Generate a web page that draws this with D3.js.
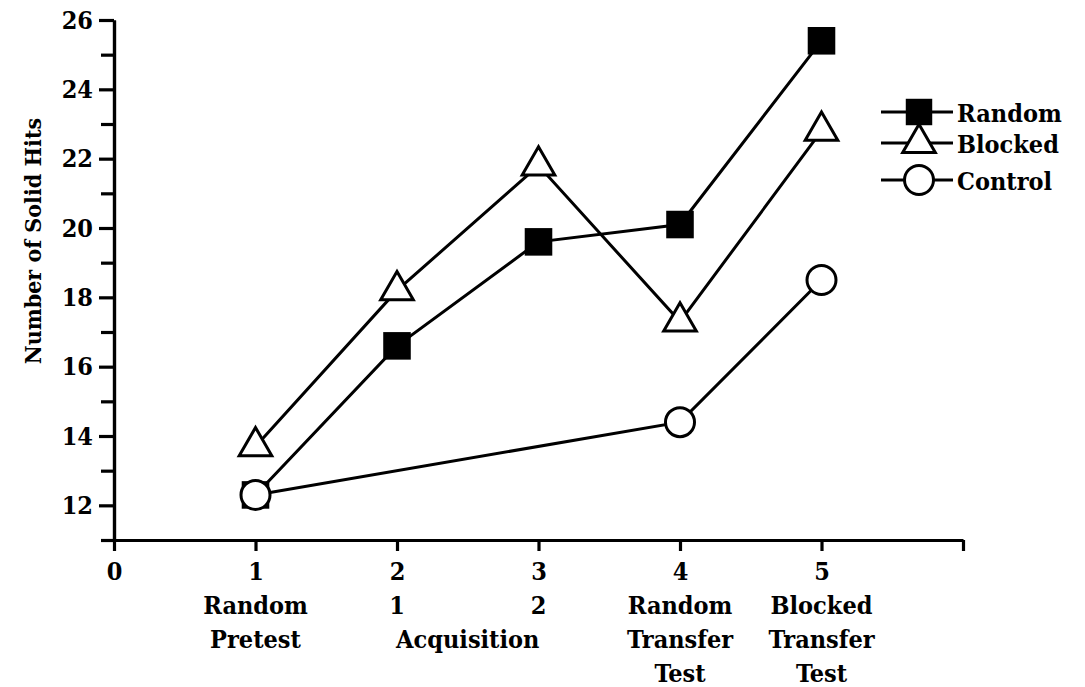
<!DOCTYPE html>
<html>
<head>
<meta charset="utf-8">
<script src="https://cdnjs.cloudflare.com/ajax/libs/d3/7.8.5/d3.min.js"></script>
<style>
    body { margin: 0; background: #fff; }
    svg text { font-family: "DejaVu Serif Condensed", "DejaVu Serif", serif; font-weight: bold; fill: #000; }
</style>
</head>
<body>
<svg id="chart" width="1085" height="687"></svg>
<script>
// data
var sessions   = [1, 2, 3, 4, 5];
var randomHits = [12.3, 16.6, 19.6, 20.1, 25.4];
var blockedHits = [13.7, 18.2, 21.8, 17.3, 22.8];
var controlSessions = [1, 4, 5];
var controlHits = [12.3, 14.4, 18.5];

var yTicks = [12, 14, 16, 18, 20, 22, 24, 26];
var yMinorTicks = [11, 13, 15, 17, 19, 21, 23, 25];
var xTicks = [0, 1, 2, 3, 4, 5, 6];
var xTickLabels = ["0", "1", "2", "3", "4", "5", ""];

// phase labels under the tick numbers: [x position, lines]
var phaseLabels = [
    [1, ["Random", "Pretest"]],
    [2, ["1"]],
    [3, ["2"]],
    [2.5, ["", "Acquisition"]],
    [4, ["Random", "Transfer", "Test"]],
    [5, ["Blocked", "Transfer", "Test"]]
];

var legendNames = ["Random", "Blocked", "Control"];

var FONT = 25;

var svg = d3.select("#chart");

var x = d3.scaleLinear().domain([0, 6]).range([114, 963]);
var y = d3.scaleLinear().domain([11, 26]).range([540, 20]);

// y axis, major + minor ticks
svg.append("g")
    .attr("transform", "translate(" + x(0) + ",0)")
    .call(d3.axisLeft(y).tickValues(yTicks).tickSize(15).tickSizeOuter(0).tickPadding(6));

svg.append("g")
    .attr("transform", "translate(" + x(0) + ",0)")
    .call(d3.axisLeft(y).tickValues(yMinorTicks).tickSize(13).tickSizeOuter(0).tickFormat(""));

// x axis
var xAxis = svg.append("g")
    .attr("transform", "translate(0," + y(11) + ")")
    .call(d3.axisBottom(x).tickValues(xTicks).tickSize(11).tickSizeOuter(0).tickPadding(14)
        .tickFormat(function (d, i) { return xTickLabels[i]; }));

svg.selectAll(".domain, .tick line")
    .attr("stroke", "#000")
    .attr("stroke-width", 3.2);

svg.selectAll(".tick text")
    .attr("font-size", FONT)
    .attr("font-family", null);

xAxis.selectAll(".tick text").attr("dy", "0.6em");

// phase labels
phaseLabels.forEach(function (p)
{
    var t = svg.append("text")
        .attr("x", x(p[0]))
        .attr("text-anchor", "middle")
        .attr("font-size", FONT);
    p[1].forEach(function (line, i)
    {
        t.append("tspan")
            .attr("x", x(p[0]))
            .attr("y", 614 + i * 34)
            .text(line);
    });
});

// y label
svg.append("text")
    .attr("transform", "translate(41," + 241 + ") rotate(-90)")
    .attr("text-anchor", "middle")
    .attr("font-size", 23)
    .text("Number of Solid Hits");

// lines
var line = d3.line()
    .x(function (d) { return x(d[0]); })
    .y(function (d) { return y(d[1]); });

function pairs(xs, ys)
{
    return xs.map(function (d, i) { return [d, ys[i]]; });
}

var randomPts = pairs(sessions, randomHits);
var blockedPts = pairs(sessions, blockedHits);
var controlPts = pairs(controlSessions, controlHits);

[randomPts, blockedPts, controlPts].forEach(function (pts)
{
    svg.append("path")
        .attr("d", line(pts))
        .attr("fill", "none")
        .attr("stroke", "#000")
        .attr("stroke-width", 3);
});

// markers
var squareSym = d3.symbol().type(d3.symbolSquare).size(760);
var triSym = d3.symbol().type(d3.symbolTriangle).size(460);
var circleR = 14.5;

function drawSquares(g, pts)
{
    g.selectAll(null).data(pts).enter().append("path")
        .attr("transform", function (d) { return "translate(" + x(d[0]) + "," + y(d[1]) + ")"; })
        .attr("d", squareSym)
        .attr("fill", "#000");
}

function drawTriangles(g, pts)
{
    g.selectAll(null).data(pts).enter().append("path")
        .attr("transform", function (d) { return "translate(" + x(d[0]) + "," + y(d[1]) + ")"; })
        .attr("d", triSym)
        .attr("fill", "#fff")
        .attr("stroke", "#000")
        .attr("stroke-width", 3);
}

function drawCircles(g, pts)
{
    g.selectAll(null).data(pts).enter().append("circle")
        .attr("cx", function (d) { return x(d[0]); })
        .attr("cy", function (d) { return y(d[1]); })
        .attr("r", circleR)
        .attr("fill", "#fff")
        .attr("stroke", "#000")
        .attr("stroke-width", 3);
}

var marks = svg.append("g");
drawSquares(marks, randomPts);
drawTriangles(marks, blockedPts);
drawCircles(marks, controlPts);

// legend
var legendY = [112, 143, 180];
var legend = svg.append("g");
legendNames.forEach(function (name, i)
{
    var ly = legendY[i];
    legend.append("line")
        .attr("x1", 881).attr("x2", 953)
        .attr("y1", ly).attr("y2", ly)
        .attr("stroke", "#000").attr("stroke-width", 3);
    legend.append("text")
        .attr("x", 957)
        .attr("y", ly + 10)
        .attr("font-size", FONT)
        .text(name);
});

// legend symbols
legend.append("path")
    .attr("transform", "translate(919," + legendY[0] + ")")
    .attr("d", d3.symbol().type(d3.symbolSquare).size(700))
    .attr("fill", "#000");
legend.append("path")
    .attr("transform", "translate(919," + legendY[1] + ")")
    .attr("d", triSym)
    .attr("fill", "#fff").attr("stroke", "#000").attr("stroke-width", 3);
legend.append("circle")
    .attr("cx", 919).attr("cy", legendY[2]).attr("r", circleR)
    .attr("fill", "#fff").attr("stroke", "#000").attr("stroke-width", 3);
</script>
</body>
</html>
